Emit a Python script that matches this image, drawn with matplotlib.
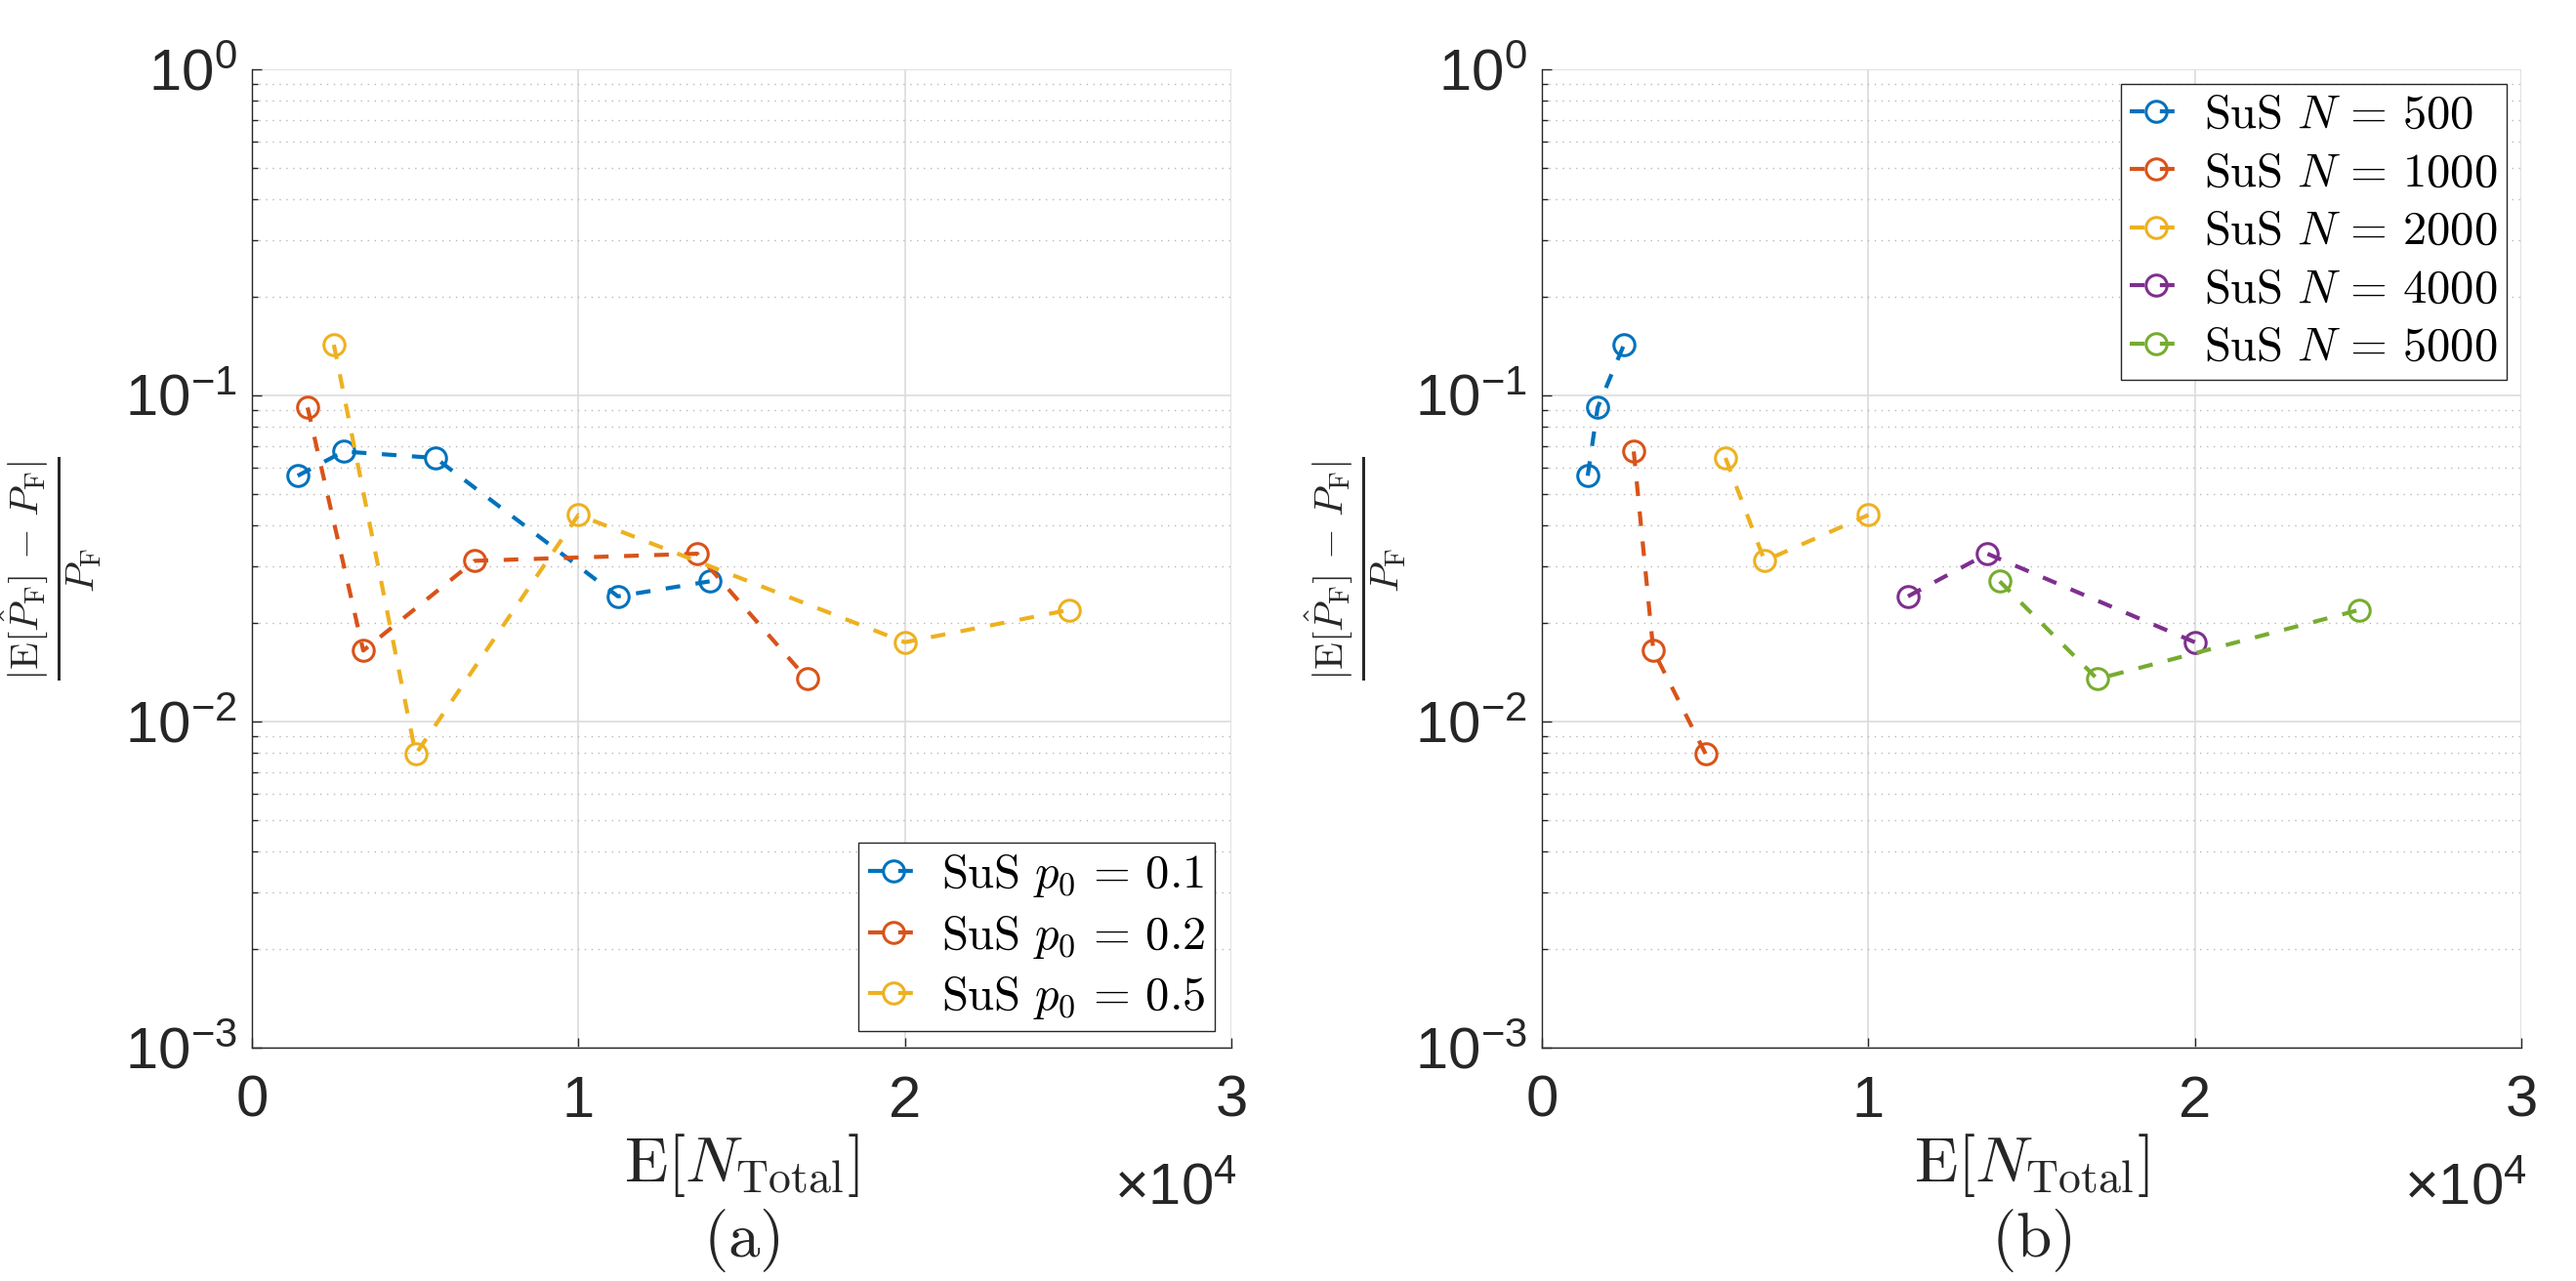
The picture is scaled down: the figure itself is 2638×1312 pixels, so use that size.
import matplotlib
matplotlib.use("Agg")
import matplotlib.pyplot as plt
from matplotlib.ticker import FixedLocator, FuncFormatter, NullFormatter, LogFormatterSciNotation

# ---------------- data ----------------
p0_values = [0.1, 0.2, 0.5]
N_values = [500, 1000, 2000, 4000, 5000]

ntotal_p01 = [1400, 2810, 5620, 11210, 14020]
err_p01 = [0.0567, 0.0673, 0.0643, 0.0242, 0.0269]
ntotal_p02 = [1705, 3410, 6820, 13640, 17010]
err_p02 = [0.0918, 0.0165, 0.0311, 0.0327, 0.0135]
ntotal_p05 = [2510, 5016, 10000, 20000, 25040]
err_p05 = [0.143, 0.00794, 0.0430, 0.0175, 0.0220]

x_ticks = [0, 10000, 20000, 30000]
y_ticks = [1e-3, 1e-2, 1e-1, 1e0]

colors = ["#0072BD", "#D95319", "#EDB120", "#7E2F8E", "#77AC30"]

plt.rcParams["font.family"] = ["Liberation Sans", "DejaVu Sans"]
plt.rcParams["mathtext.fontset"] = "cm"

TICK_FS = 43
LABEL_FS = 47
LEG_FS = 35
YLAB_FS = 42
DARK = "#262626"

fig = plt.figure(figsize=(26.38, 13.12), dpi=100)
ax_a = fig.add_axes([0.0978, 0.1822, 0.3802, 0.7637])
ax_b = fig.add_axes([0.5986, 0.1822, 0.3802, 0.7637])

line_kw = dict(ls=(0, (3.6, 3.8)), lw=3, marker="o", ms=15.5, mew=2.2,
               mfc="none")

# panel (a): grouped by p0
p_series = [(ntotal_p01, err_p01), (ntotal_p02, err_p02), (ntotal_p05, err_p05)]
for k, (xs, ys) in enumerate(p_series):
    ax_a.plot(xs, ys, color=colors[k], mec=colors[k],
              label=r"$\mathrm{SuS}\ p_0\,=\,%g$" % p0_values[k], **line_kw)

# panel (b): grouped by N
for i, N in enumerate(N_values):
    xs = [s[0][i] for s in p_series]
    ys = [s[1][i] for s in p_series]
    ax_b.plot(xs, ys, color=colors[i], mec=colors[i],
              label=r"$\mathrm{SuS}\ N\,=\,%d$" % N, **line_kw)

ylabel = r"$\frac{|\mathrm{E}[\hat{P}_\mathrm{F}]\,-\,P_\mathrm{F}|}{P_\mathrm{F}}$"

for ax, tag, ylx in [(ax_a, "(a)", -0.205), (ax_b, "(b)", -0.19)]:
    ax.set_yscale("log")
    ax.set_xlim(0, 30000)
    ax.set_ylim(1e-3, 1)
    ax.xaxis.set_major_locator(FixedLocator(x_ticks))
    ax.xaxis.set_major_formatter(FuncFormatter(lambda v, p: "%g" % (v / 1e4)))
    ax.yaxis.set_major_locator(FixedLocator(y_ticks))
    ax.yaxis.set_major_formatter(LogFormatterSciNotation())
    ax.yaxis.set_minor_formatter(NullFormatter())
    for sp in ["top", "right"]:
        ax.spines[sp].set_visible(False)
    for sp in ["left", "bottom"]:
        ax.spines[sp].set_color(DARK)
        ax.spines[sp].set_linewidth(1.0)
    ax.tick_params(which="both", direction="in", colors=DARK, width=1.0)
    ax.tick_params(which="major", length=7.5, labelsize=TICK_FS)
    ax.tick_params(which="minor", length=4)
    ax.tick_params(axis="x", which="major", pad=20)
    ax.tick_params(axis="y", which="major", pad=11)
    ax.set_axisbelow(True)
    ax.grid(which="major", color="#dcdcdc", lw=1.2, ls="-")
    ax.grid(which="minor", axis="y", color="#b8b8b8", lw=1.0, ls=(0, (1, 4)))
    ax.text(0.5, -0.137, r"$\mathrm{E}[N_{\mathrm{Total}}]$", transform=ax.transAxes,
            ha="center", va="baseline", fontsize=LABEL_FS, color=DARK)
    ax.text(0.5, -0.2136, r"$(\mathrm{%s})$" % tag[1], transform=ax.transAxes,
            ha="center", va="baseline", fontsize=LABEL_FS, color=DARK)
    ax.text(1.006, -0.161, "×" + r"$\mathdefault{10^{4}}$", transform=ax.transAxes,
            ha="right", va="baseline", fontsize=TICK_FS, color=DARK)
    ax.text(ylx, 0.49, ylabel, transform=ax.transAxes, rotation=90,
            ha="center", va="center", fontsize=YLAB_FS, color=DARK)

leg_kw = dict(fontsize=LEG_FS, frameon=True, fancybox=False, framealpha=1,
              edgecolor=DARK, handlelength=1.1, handletextpad=0.45,
              borderpad=0.2, labelspacing=0.3, borderaxespad=0)
la = ax_a.legend(loc="lower right", bbox_to_anchor=(0.983, 0.017), **leg_kw)
lb = ax_b.legend(loc="upper right", bbox_to_anchor=(0.985, 0.985), **leg_kw)
for lg in (la, lb):
    lg.get_frame().set_linewidth(1.0)

fig.savefig("out.png", dpi=100)
